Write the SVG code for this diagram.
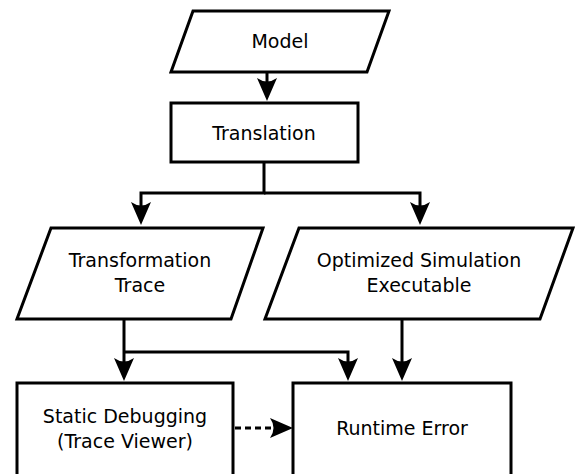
<svg xmlns="http://www.w3.org/2000/svg" width="577" height="474" viewBox="0 0 577 474">
  <style>
    .shape { fill: #ffffff; stroke: #000000; stroke-width: 3; stroke-linejoin: miter; }
    .conn { fill: none; stroke: #000000; stroke-width: 3; }
    .dash { stroke-dasharray: 6 4; }
    text { font-family: "DejaVu Sans", "Liberation Sans", sans-serif; font-size: 19px; fill: #000000; text-anchor: middle; }
  </style>
  <defs>
    <marker id="arrow" viewBox="0 0 23 20" refX="13" refY="10" markerWidth="23" markerHeight="20" markerUnits="userSpaceOnUse" orient="auto">
      <path d="M0,0 L23,10 L0,20 Q7,10 0,0 Z" fill="#000000"/>
    </marker>
  </defs>
  <rect x="0" y="0" width="577" height="474" fill="#ffffff"/>

  <g id="connectors">
    <path class="conn" d="M267,72 V91" marker-end="url(#arrow)"/>
    <path class="conn" d="M264,162 V193 H141 V215" marker-end="url(#arrow)"/>
    <path class="conn" d="M264,193 H420 V215" marker-end="url(#arrow)"/>
    <path class="conn" d="M124,319 V371" marker-end="url(#arrow)"/>
    <path class="conn" d="M124,352 H348 V371" marker-end="url(#arrow)"/>
    <path class="conn" d="M402,319 V371" marker-end="url(#arrow)"/>
    <path class="conn dash" d="M235,428 H283" marker-end="url(#arrow)"/>
  </g>

  <g id="model">
    <polygon class="shape" points="193,11 389,11 367,72 171,72"/>
    <text x="280" y="48">Model</text>
  </g>

  <g id="translation">
    <rect class="shape" x="171" y="103" width="187" height="59"/>
    <text x="264" y="140">Translation</text>
  </g>

  <g id="transformation-trace">
    <polygon class="shape" points="51,228 263,228 231,319 17,319"/>
    <text x="140" y="267">Transformation</text>
    <text x="140" y="292">Trace</text>
  </g>

  <g id="optimized-simulation">
    <polygon class="shape" points="299,228 573,228 540,319 265,319"/>
    <text x="419" y="267">Optimized Simulation</text>
    <text x="419" y="292">Executable</text>
  </g>

  <g id="static-debugging">
    <rect class="shape" x="17" y="383" width="216" height="110"/>
    <text x="125" y="423">Static Debugging</text>
    <text x="125" y="448">(Trace Viewer)</text>
  </g>

  <g id="runtime-error">
    <rect class="shape" x="293" y="383" width="218" height="110"/>
    <text x="402" y="435">Runtime Error</text>
  </g>
</svg>
